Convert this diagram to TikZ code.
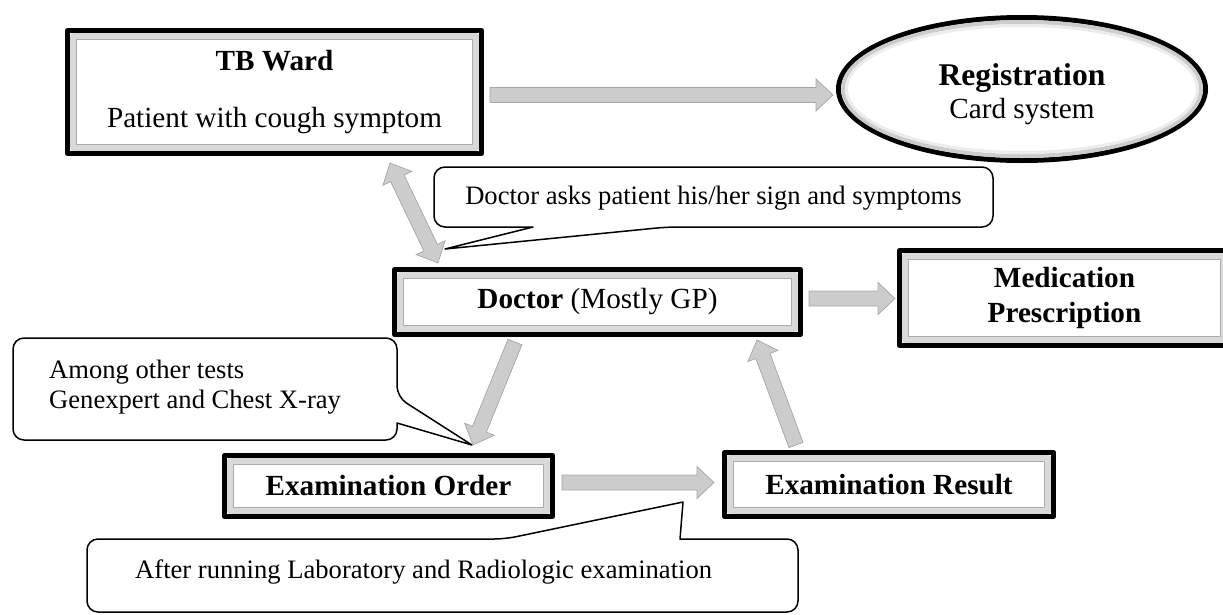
\documentclass[tikz,border=0pt]{standalone}
\usepackage{fontspec}
\setmainfont{Liberation Serif}
\usetikzlibrary{calc,shapes.geometric}

\newcommand{\mainsize}{\fontsize{29.2}{35}\selectfont}
\newcommand{\notesize}{\fontsize{26.6}{30}\selectfont}
\newcommand{\regsize}{\fontsize{31.6}{35}\selectfont}

% block arrow from #1 to #2 (shaft 15, head 32 wide, 17 long)
\newcommand{\fatarrow}[2]{%
  \coordinate (fh) at ($(#2)!17pt!(#1)$);
  \filldraw[blockarrow] ($(#1)!7.5pt!90:(#2)$) -- ($(fh)!7.5pt!-90:(#1)$)
    -- ($(fh)!16pt!-90:(#1)$) -- (#2) -- ($(fh)!16pt!90:(#1)$)
    -- ($(fh)!7.5pt!90:(#1)$) -- ($(#1)!7.5pt!-90:(#2)$) -- cycle;}
% same with a head at both ends
\newcommand{\twowayarrow}[2]{%
  \coordinate (fh) at ($(#2)!17pt!(#1)$);
  \coordinate (fg) at ($(#1)!17pt!(#2)$);
  \filldraw[blockarrow] (#1) -- ($(fg)!16pt!90:(#2)$) -- ($(fg)!7.5pt!90:(#2)$)
    -- ($(fh)!7.5pt!-90:(#1)$) -- ($(fh)!16pt!-90:(#1)$) -- (#2)
    -- ($(fh)!16pt!90:(#1)$) -- ($(fh)!7.5pt!90:(#1)$)
    -- ($(fg)!7.5pt!-90:(#2)$) -- ($(fg)!16pt!-90:(#2)$) -- cycle;}

\tikzset{
  procbox/.style={draw=black,line width=5pt,fill=white,inner sep=0pt,
    align=center,font=\mainsize},
  regbox/.style={ellipse,draw=black,line width=5pt,fill=white,inner sep=0pt},
  bevel/.style={draw=gray!30,line width=6pt},
  bevelline/.style={draw=gray!65,line width=.8pt},
  blockarrow/.style={fill=gray!40,draw=gray!70,line width=.7pt,line join=miter},
  bubble/.style={draw=black,line width=1.5pt,fill=white},
  bubbletext/.style={font=\notesize,align=left,inner sep=0pt}
}

\begin{document}
\begin{tikzpicture}[x=1pt,y=-1pt,line join=round]
    \useasboundingbox (0,0) rectangle (1223,614);
    \clip (0,0) rectangle (1223,614);

    % Speech bubbles with their pointers.
    \draw[bubble] (434,197) [rounded corners=11pt] -- (434,167) -- (993,167)
      -- (993,227) -- (667,227) [sharp corners] -- (445,249) -- (533,227)
      [rounded corners=11pt] -- (434,227) -- cycle;
    \draw[bubble] (13,389) [rounded corners=11pt] -- (13,338) -- (397,338)
      -- (397,397) [sharp corners] -- (472,445) -- (397,423)
      [rounded corners=11pt] -- (397,440) -- (13,440) -- cycle;
    \draw[bubble] (87,575) [rounded corners=11pt] -- (87,539) -- (505,539)
      [sharp corners] -- (683,502) -- (680,539) [rounded corners=11pt]
      -- (798,539) -- (798,612) -- (87,612) -- cycle;
    \node[bubbletext] (ask) at (713.5,198)
      {Doctor asks patient his/her sign and symptoms};
    \node[bubbletext,anchor=west] (tests) at (49,387)
      {Among other tests\\Genexpert and Chest X-ray};
    \node[bubbletext,anchor=west] (after) at (135,572)
      {After running Laboratory and Radiologic examination};

    % The framed steps of the pathway.
    \node[procbox,minimum width=414pt,minimum height=123pt] (tb) at (274.5,92)
      {\textbf{TB Ward}\\[22pt]Patient with cough symptom};
    \node[procbox,minimum width=406pt,minimum height=65pt] (doc) at (597.5,302)
      {\textbf{Doctor} (Mostly GP)};
    \node[procbox,minimum width=328pt,minimum height=61pt] (order)
      at (388.5,486) {\textbf{Examination Order}};
    \node[procbox,minimum width=329pt,minimum height=64pt] (result)
      at (889,484.5) {\textbf{Examination Result}};
    \node[procbox,minimum width=330pt,minimum height=95pt] (med)
      at (1064.5,298) {\textbf{Medication}\\\textbf{Prescription}};
    \foreach \n in {tb,doc,order,result,med}{
      \draw[bevel] ([shift={(8,8)}]\n.north west) rectangle
        ([shift={(-8,-8)}]\n.south east);
      \draw[bevelline] ([shift={(11.5,11.5)}]\n.north west) rectangle
        ([shift={(-11.5,-11.5)}]\n.south east);
    }

    % Registration desk.
    \node[regbox,minimum width=367pt,minimum height=143pt] (reg) at (1022,89) {};
    \draw[gray!40,line width=4pt] (reg.center) ellipse [x radius=179,y radius=67];
    \draw[gray!15,line width=3pt] (reg.center) ellipse [x radius=175.5,y radius=63.5];
    \node[font=\mainsize,align=center,inner sep=0pt] (regtext)
      at ([shift={(0,5)}]reg.center)
      {{\regsize\textbf{Registration}}\\[-2pt]Card system};

    % Block arrows between the steps.
    \coordinate (tbout) at ([shift={(6,3)}]tb.east);
    \coordinate (regin) at ([shift={(-3,6)}]reg.west);
    \fatarrow{tbout}{regin}
    \coordinate (tbtip) at ([shift={(115.5,7)}]tb.south);
    \coordinate (doctip) at ([shift={(46,-4)}]doc.north west);
    \twowayarrow{tbtip}{doctip}
    \coordinate (docout) at ([shift={(-82.5,5)}]doc.south);
    \coordinate (orderin) at ([shift={(84.5,-8)}]order.north);
    \fatarrow{docout}{orderin}
    \coordinate (docright) at ([shift={(6,-3.5)}]doc.east);
    \coordinate (medin) at ([shift={(-2,.5)}]med.west);
    \fatarrow{docright}{medin}
    \coordinate (orderout) at ([shift={(7,-3.5)}]order.east);
    \coordinate (resultin) at ([shift={(-8,-2)}]result.west);
    \fatarrow{orderout}{resultin}
    \coordinate (resultout) at ([shift={(-93,-5)}]result.north);
    \coordinate (docin) at ([shift={(159.5,3)}]doc.south);
    \fatarrow{resultout}{docin}
  \end{tikzpicture}
\end{document}
